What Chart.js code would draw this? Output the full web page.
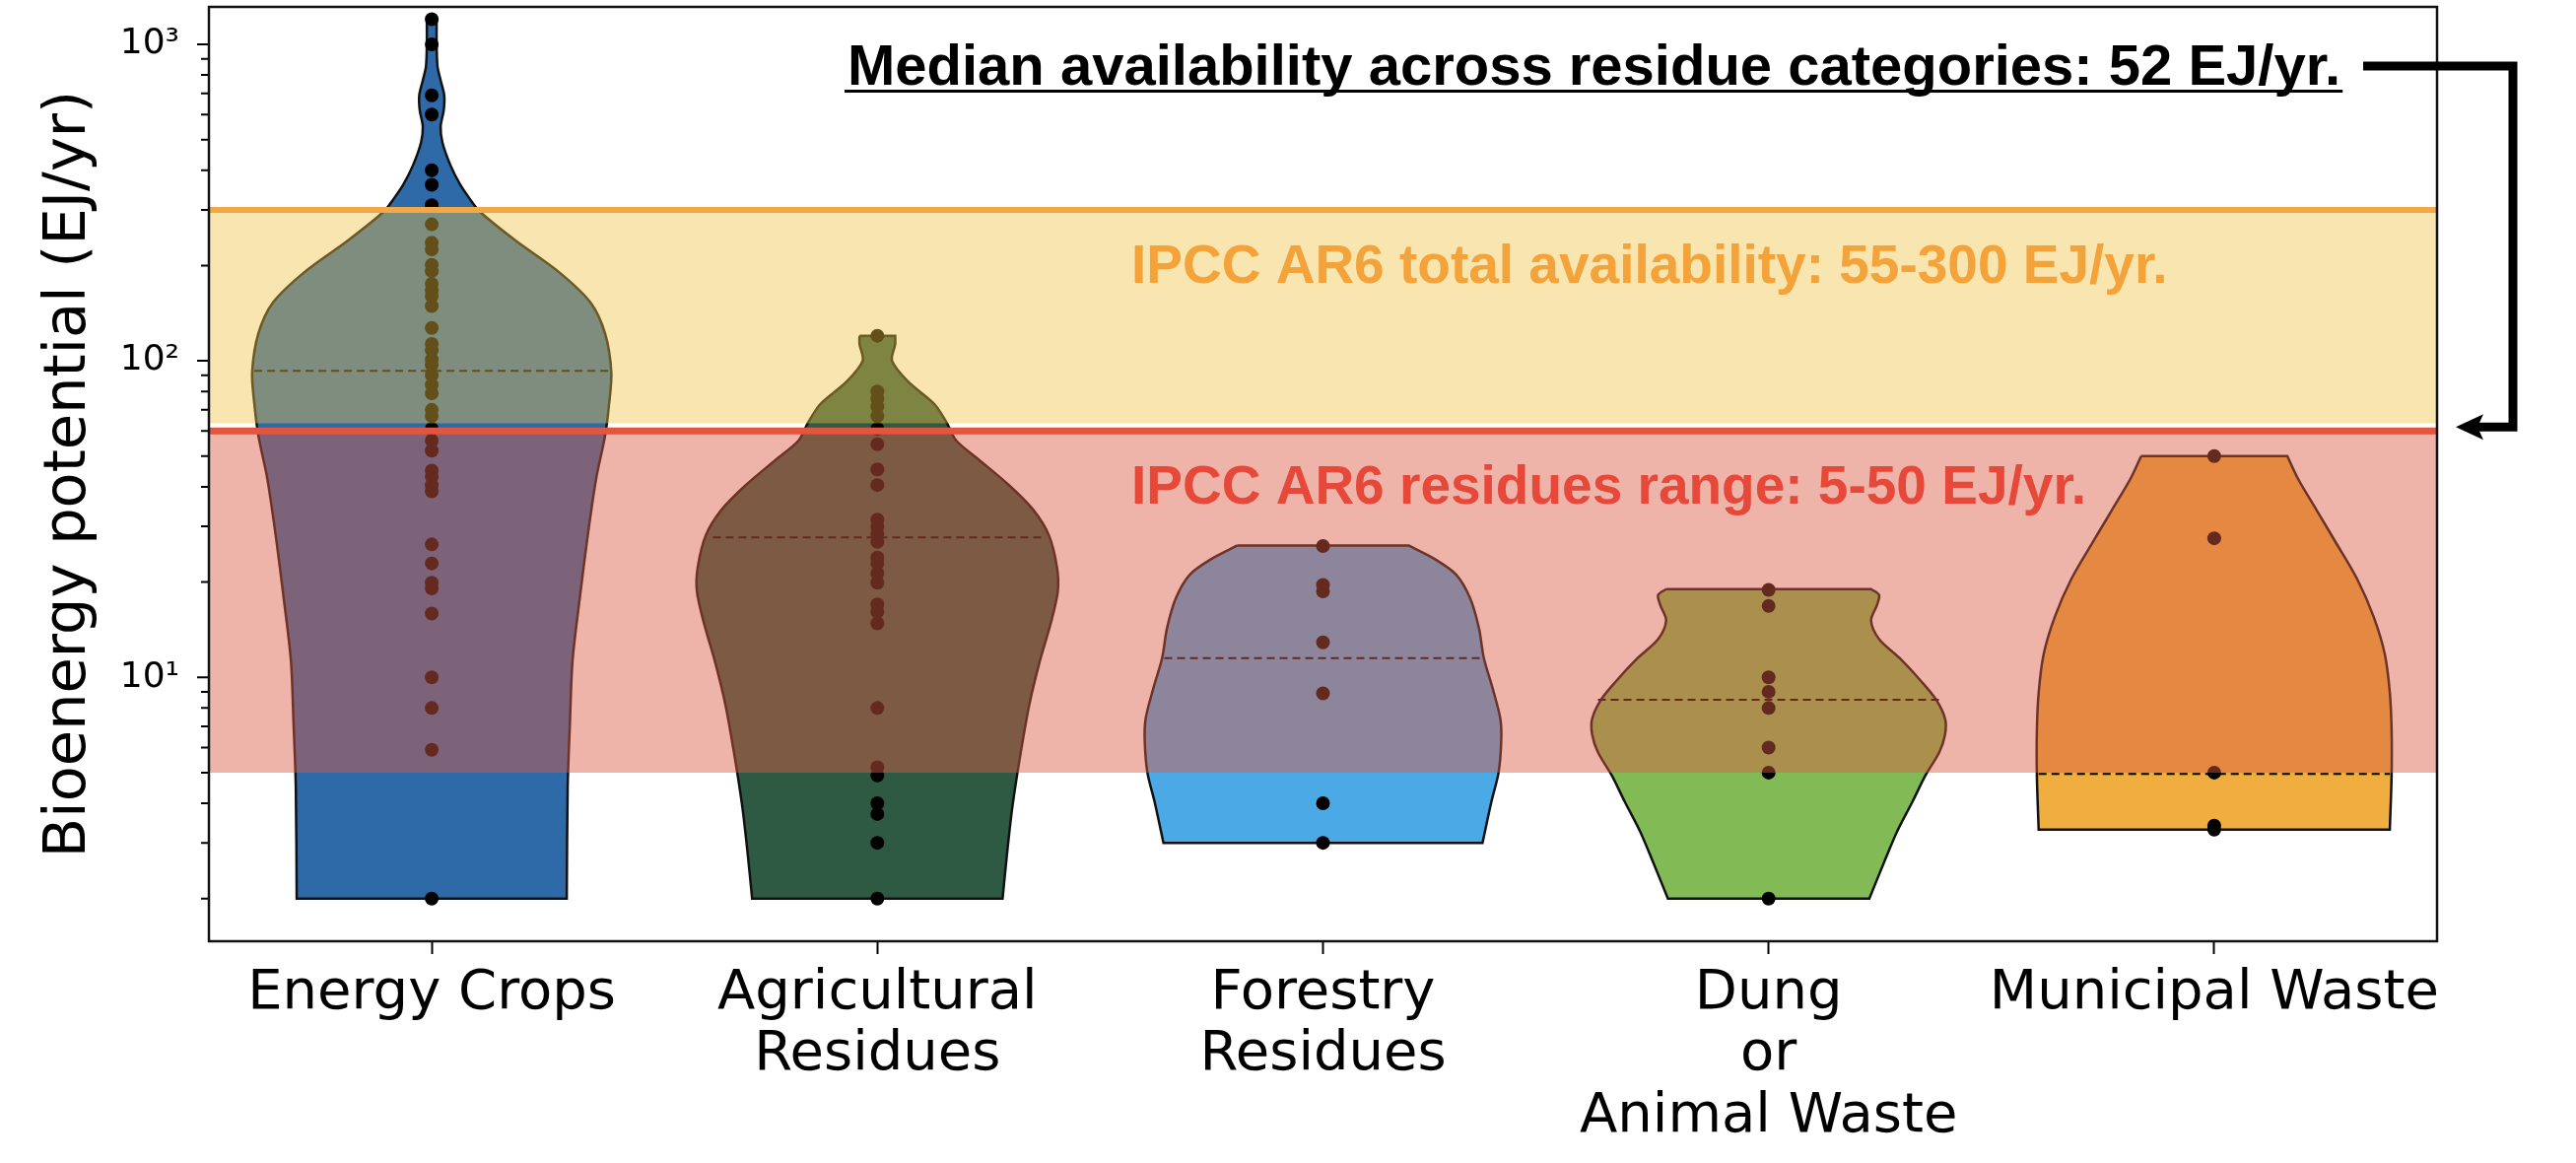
<!DOCTYPE html>
<html>
<head>
<meta charset="utf-8">
<script src="https://cdn.jsdelivr.net/npm/chart.js@4.4.1/dist/chart.umd.min.js"></script>
<style>
  html, body { margin: 0; padding: 0; background: #ffffff; }
  #wrap { width: 2614px; height: 1180px; position: relative; }
</style>
</head>
<body>
<div id="wrap"><canvas id="c"></canvas></div>
<script>
// ---------------- data ----------------
const categories = ['Energy Crops', 'Agricultural\nResidues', 'Forestry\nResidues', 'Dung\nor\nAnimal Waste', 'Municipal Waste'];
const violinColors = ['#2F6AA8', '#2E5A44', '#4BA9E6', '#82BB55', '#EFAE3F'];

// violin outlines: [value (EJ/yr), half width (category units)], top to bottom
const energyCropsOutline = [[1200,.011],[1000,.011],[850,.013],[770,.020],[690,.028],[620,.027],[550,.020],[490,.024],[415,.042],[360,.064],[327,.084],[296,.108],[240,.188],[191,.285],[153,.356],[122,.389],[92,.403],[73,.398],[58,.389],[42.5,.369],[28,.350],[17.7,.332],[11.3,.316],[7.1,.310],[4.5,.305],[2,.303]];
const agriculturalOutline = [[120,.040],[113,.040],[100,.033],[86,.069],[73,.128],[64,.155],[56,.177],[48.7,.228],[40.4,.296],[33.8,.350],[28.1,.385],[22.3,.403],[18.7,.405],[14.8,.389],[11.3,.365],[8.2,.341],[5.7,.321],[3.9,.303],[2.86,.292],[2,.281]];
const forestryOutline = [[26.1,.192],[23.5,.254],[21.1,.299],[17.8,.330],[14.3,.350],[11.5,.361],[9.2,.381],[7.4,.398],[6.3,.400],[5.0,.394],[4.05,.378],[3.0,.358]];
const dungOutline = [[19,.230],[18.2,.248],[16.9,.243],[15.1,.230],[13.2,.248],[11.5,.294],[9.7,.343],[8.5,.376],[7.4,.396],[6.6,.396],[5.8,.383],[4.9,.352],[4.05,.323],[3.25,.288],[2.6,.259],[2,.226]];
const municipalOutline = [[50,.164],[42.4,.188],[33.7,.230],[26.8,.272],[20.4,.321],[15.5,.358],[11.8,.383],[8.95,.394],[6.8,.398],[4.9,.398],[3.3,.394]];
const outlines = [energyCropsOutline, agriculturalOutline, forestryOutline, dungOutline, municipalOutline];

// individual estimates (EJ/yr)
const energyCropsValues = [1200, 1000, 690, 600, 400, 360, 310, 270, 236, 225, 201, 192, 175, 167, 160, 149, 127, 113, 108, 101, 97, 90, 84, 79, 70, 67, 61, 56, 52, 45, 43, 40.5, 38.7, 26.3, 22.9, 19.9, 19.1, 15.9, 10, 8, 5.9, 2];
const agriculturalValues = [120, 80, 76, 71.7, 67, 61, 54.5, 45.4, 40.5, 31.5, 30, 28.4, 26.8, 23.9, 22.9, 21.3, 19.9, 17, 16.1, 14.8, 8, 5.2, 4.9, 4, 3.7, 3, 2];
const forestryValues = [26, 19.6, 18.7, 12.9, 8.9, 4, 3];
const dungValues = [18.9, 16.8, 10, 9, 8, 6, 5, 2];
const municipalValues = [50, 27.5, 5, 3.4, 3.3];
const pointValues = [energyCropsValues, agriculturalValues, forestryValues, dungValues, municipalValues];

const medians = [93, 27.7, 11.5, 8.5, 4.95];
const medianHalfWidths = [.398, .369, .356, .383, .394];

const totalBand = [63.5, 300];     // IPCC AR6 total availability band (drawn)
const residuesBand = [5, 60];      // IPCC AR6 residues band (drawn)

const yMajorTicks = [10, 100, 1000];
const yMajorLabels = ['10\u00B9', '10\u00B2', '10\u00B3'];
const yMinorTicks = [];
for (const d of [1, 10, 100]) for (let m = 2; m <= 9; m++) yMinorTicks.push(m * d);
const yMin = 1.466, yMax = 1313;

const titleText = 'Median availability across residue categories: 52 EJ/yr.';
const totalText = 'IPCC AR6 total availability: 55-300 EJ/yr.';
const residuesText = 'IPCC AR6 residues range: 5-50 EJ/yr.';

// ---------------- build datasets ----------------
function violinPath(outline, cx) {
  const n = outline.length;
  const R = outline.map(([v, w]) => ({x: cx + w, y: v}));
  const L = outline.map(([v, w]) => ({x: cx - w, y: v}));
  const pts = [L[0], L[0], R[0], R[0]];
  for (let i = 1; i < n - 1; i++) pts.push(R[i]);
  pts.push(R[n - 1], R[n - 1], L[n - 1], L[n - 1]);
  for (let i = n - 2; i >= 1; i--) pts.push(L[i]);
  pts.push(L[0]);
  return pts.map(p => ({x: p.x, y: p.y}));
}

const datasets = [];
// bands (top layer)
datasets.push({
  type: 'line', data: [{x: -0.5, y: totalBand[1]}, {x: 4.5, y: totalBand[1]}],
  borderColor: '#F4A746', borderWidth: 6, backgroundColor: 'rgba(240,191,62,0.41)',
  fill: {value: totalBand[0]}, pointRadius: 0, order: 0
});
datasets.push({
  type: 'line', data: [{x: -0.5, y: residuesBand[1]}, {x: 4.5, y: residuesBand[1]}],
  borderColor: '#E2553F', borderWidth: 7, backgroundColor: 'rgba(219,91,67,0.46)',
  fill: {value: residuesBand[0]}, pointRadius: 0, order: 0
});
categories.forEach((c, i) => {
  datasets.push({
    type: 'line', data: violinPath(outlines[i], i),
    borderColor: '#111', borderWidth: 2.5, backgroundColor: violinColors[i],
    fill: 'shape', tension: 0.3, pointRadius: 0, order: 3
  });
  datasets.push({
    type: 'line', data: [{x: i - medianHalfWidths[i], y: medians[i]}, {x: i + medianHalfWidths[i], y: medians[i]}],
    borderColor: '#000', borderWidth: 2, borderDash: [8, 5], fill: false, pointRadius: 0, order: 2
  });
  datasets.push({
    type: 'scatter', data: pointValues[i].map(v => ({x: i, y: v})),
    pointRadius: 7, pointBackgroundColor: '#000', pointBorderWidth: 0, showLine: false, order: 1
  });
});

// ---------------- overlay plugin ----------------
const overlay = {
  id: 'overlay',
  afterDraw(chart) {
    const {ctx, chartArea: a, scales: {y}} = chart;
    ctx.save();
    ctx.strokeStyle = '#000';
    ctx.lineWidth = 2;
    ctx.beginPath();
    for (const v of yMajorTicks) { const p = y.getPixelForValue(v); ctx.moveTo(a.left - 12, p); ctx.lineTo(a.left, p); }
    for (const v of yMinorTicks) { const p = y.getPixelForValue(v); if (p > a.top && p < a.bottom) { ctx.moveTo(a.left - 8, p); ctx.lineTo(a.left, p); } }
    ctx.stroke();
    // frame
    ctx.lineWidth = 2.5;
    ctx.strokeStyle = '#111';
    ctx.strokeRect(a.left, a.top, a.right - a.left, a.bottom - a.top);

    // title annotation
    ctx.fillStyle = '#000';
    ctx.font = 'bold 58px "Liberation Sans", Arial, sans-serif';
    ctx.textBaseline = 'alphabetic';
    ctx.textAlign = 'left';
    const tx = 860, tb = 86;
    ctx.fillText(titleText, tx, tb);
    const tw = ctx.measureText(titleText).width;
    ctx.fillRect(tx - 3, 91, tw + 5, 3);

    ctx.font = 'bold 55px "Liberation Sans", Arial, sans-serif';
    ctx.fillStyle = '#F3A33A';
    ctx.fillText(totalText, 1148, 287);
    ctx.fillStyle = '#E6493A';
    ctx.fillText(residuesText, 1148, 511);

    // arrow
    const yArrow = y.getPixelForValue(residuesBand[1]) - 4;
    ctx.strokeStyle = '#000';
    ctx.lineWidth = 9;
    ctx.lineJoin = 'miter';
    ctx.beginPath();
    ctx.moveTo(2398, 67);
    ctx.lineTo(2550, 67);
    ctx.lineTo(2550, yArrow);
    ctx.lineTo(2512, yArrow);
    ctx.stroke();
    ctx.fillStyle = '#000';
    ctx.beginPath();
    ctx.moveTo(2492, yArrow);
    ctx.lineTo(2520, yArrow - 13);
    ctx.lineTo(2514, yArrow);
    ctx.lineTo(2520, yArrow + 13);
    ctx.closePath();
    ctx.fill();
    ctx.restore();
  }
};

// ---------------- chart ----------------
new Chart(document.getElementById('c'), {
  type: 'line',
  data: {datasets},
  plugins: [overlay],
  options: {
    responsive: true, maintainAspectRatio: false, animation: false, devicePixelRatio: 1, events: [],
    layout: {padding: {left: 0, right: 141, top: 6, bottom: 0}},
    plugins: {legend: {display: false}, tooltip: {enabled: false}},
    scales: {
      x: {
        type: 'linear', min: -0.5, max: 4.5, bounds: 'data',
        afterBuildTicks: s => { s.ticks = categories.map((c, i) => ({value: i})); },
        afterFit: s => { s.height = 225; s.paddingLeft = 0; s.paddingRight = 0; },
        grid: {display: true, drawOnChartArea: false, drawTicks: true, tickLength: 13, tickWidth: 2, tickColor: '#000'},
        border: {display: false},
        ticks: {
          autoSkip: false, maxRotation: 0, minRotation: 0, padding: 9, color: '#000',
          font: {family: '"DejaVu Sans", sans-serif', size: 56, lineHeight: 1.116},
          callback: v => (categories[v] !== undefined ? categories[v].split('\n') : '')
        }
      },
      y: {
        type: 'logarithmic', min: yMin, max: yMax, bounds: 'data',
        afterBuildTicks: s => {
          const vals = yMinorTicks.concat(yMajorTicks).sort((p, q) => p - q);
          s.ticks = vals.map(v => ({value: v, major: yMajorTicks.includes(v)}));
        },
        afterFit: s => { s.width = 212; s.paddingTop = 0; s.paddingBottom = 0; },
        grid: {display: false, drawTicks: false, tickLength: 0},
        border: {display: false},
        ticks: {
          autoSkip: false, padding: 30, color: '#000',
          font: {family: '"DejaVu Sans", sans-serif', size: 36},
          callback: v => { const k = yMajorTicks.indexOf(v); return k >= 0 ? yMajorLabels[k] : ''; }
        },
        title: {
          display: true, text: 'Bioenergy potential (EJ/yr)', color: '#000',
          font: {family: '"DejaVu Sans", sans-serif', size: 59},
          padding: {top: 35, bottom: 0}
        }
      }
    }
  }
});
</script>
</body>
</html>
